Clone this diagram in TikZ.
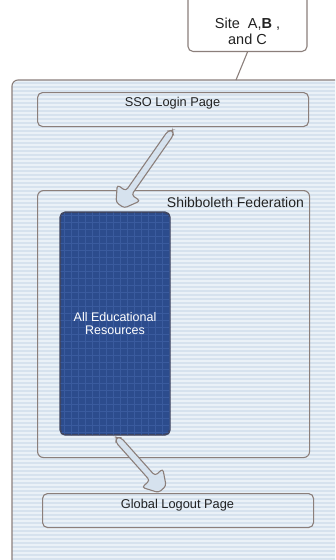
\documentclass[tikz,border=0pt]{standalone}
\usepackage{fontspec}
\setmainfont{Liberation Sans}
\usetikzlibrary{calc}
\definecolor{bordc}{HTML}{8B7F7B}
\definecolor{bgblue}{HTML}{D6E2EE}
\definecolor{stripec}{HTML}{EAF1F7}
\definecolor{resblue}{HTML}{2C4C8D}
\definecolor{gridblue}{HTML}{3A5B9E}
\definecolor{resbord}{HTML}{3F4560}
\definecolor{txtc}{HTML}{222222}
\newcommand\blockarr[2]{%
  \coordinate (bam) at ($(#2)!16pt!(#1)$);
  \coordinate (bat) at ($(#2)!1pt!(#1)$);
  \filldraw[arrowbody]
    ($(#1)!3.5pt!90:(#2)$) -- ($(bam)!3.5pt!90:(#2)$)
    -- ($(bam)!14pt!90:(#2)$) -- ($(bat)!5pt!90:(#2)$) -- ($(bat)!5pt!-90:(#2)$)
    -- ($(bam)!14pt!-90:(#2)$) -- ($(bam)!3.5pt!-90:(#2)$)
    -- ($(#1)!3.5pt!-90:(#2)$) -- ($(#1)!3.5pt!180:(#2)$) -- cycle;
}
\begin{document}
\begin{tikzpicture}[x=1pt,y=-1pt,
  boxc/.style={draw=bordc, line width=1.1pt, rounded corners=5pt, inner sep=0pt},
  arrowbody/.style={draw=bordc, fill=bgblue, line width=1.1pt, rounded corners=3pt},
  lbl/.style={text=txtc, inner sep=0pt},
  midfont/.style={font=\fontsize{12.8}{12.8}\selectfont}]
\useasboundingbox (0,0) rectangle (335,560);
\clip (0,0) rectangle (335,560);
\fill[white] (0,0) rectangle (335,560);
% outer region
\node[fill=bgblue, rounded corners=6pt, minimum width=345pt, minimum height=500pt, anchor=north west, inner sep=0pt] (outer) at (12,80) {};
\begin{scope}
  \clip[rounded corners=6pt] (outer.north west) rectangle (outer.south east);
  \foreach \yy in {81,85,...,580} \draw[stripec, line width=1.6pt] (0,\yy) -- (360,\yy);
\end{scope}
\draw[bordc, line width=1.1pt, rounded corners=6pt] (12,600) -- (outer.north west) -- (360,80);
% site box
\node[boxc, fill=white, minimum width=119pt, minimum height=70pt, anchor=south] (site) at (247.5,52) {};
\node[lbl, align=center, font=\fontsize{14.5}{16}\selectfont] (sitetext) at (247.5,31) {Site\ \ A,\textbf{B} ,\\and C};
\coordinate (outtop) at (236,80);
\draw[bordc, line width=1.1pt] (site.south) -- (outtop);
% SSO login
\node[boxc, minimum width=271pt, minimum height=34pt, anchor=north west] (sso) at (37,92) {};
\node[lbl, midfont, anchor=base] (ssotext) at (172.5,106) {SSO Login Page};
% Shibboleth federation
\node[boxc, minimum width=272pt, minimum height=267pt, anchor=north west, rounded corners=6pt] (shib) at (37,190) {};
% resources
\node[boxc, draw=resbord, fill=resblue, minimum width=109pt, minimum height=222pt, anchor=north west] (res) at (60,212) {};
\begin{scope}
  \clip[rounded corners=5pt] (res.north west) rectangle (res.south east);
  \foreach \xx in {64,71,...,170} \draw[gridblue, line width=0.6pt] (\xx,200) -- (\xx,440);
  \foreach \yy in {215,222,...,440} \draw[gridblue, line width=0.6pt] (50,\yy) -- (180,\yy);
\end{scope}
\draw[draw=resbord, line width=1.1pt, rounded corners=5pt] (res.north west) rectangle (res.south east);
\node[lbl, text=white, align=center, font=\fontsize{12.5}{12.5}\selectfont] (restext) at (res.center) {All Educational\\Resources};
% global logout
\node[boxc, minimum width=271pt, minimum height=34pt, anchor=north west] (glob) at (42,493) {};
\node[lbl, midfont, anchor=base] (globtext) at (177.5,508) {Global Logout Page};
% arrows
\coordinate (a1s) at ($(sso.south)+(-2.5,6)$);
\coordinate (a1e) at ($(res.north)+(4.5,-6)$);
\blockarr{a1s}{a1e}
\coordinate (a2s) at ($(res.south)+(3.5,5)$);
\coordinate (a2e) at ($(glob.north)+(-15,-3)$);
\blockarr{a2s}{a2e}
\node[lbl, font=\fontsize{14}{14}\selectfont, anchor=base east] (shibtext) at ($(shib.north east)+(-6,17)$) {Shibboleth Federation};
\end{tikzpicture}
\end{document}
